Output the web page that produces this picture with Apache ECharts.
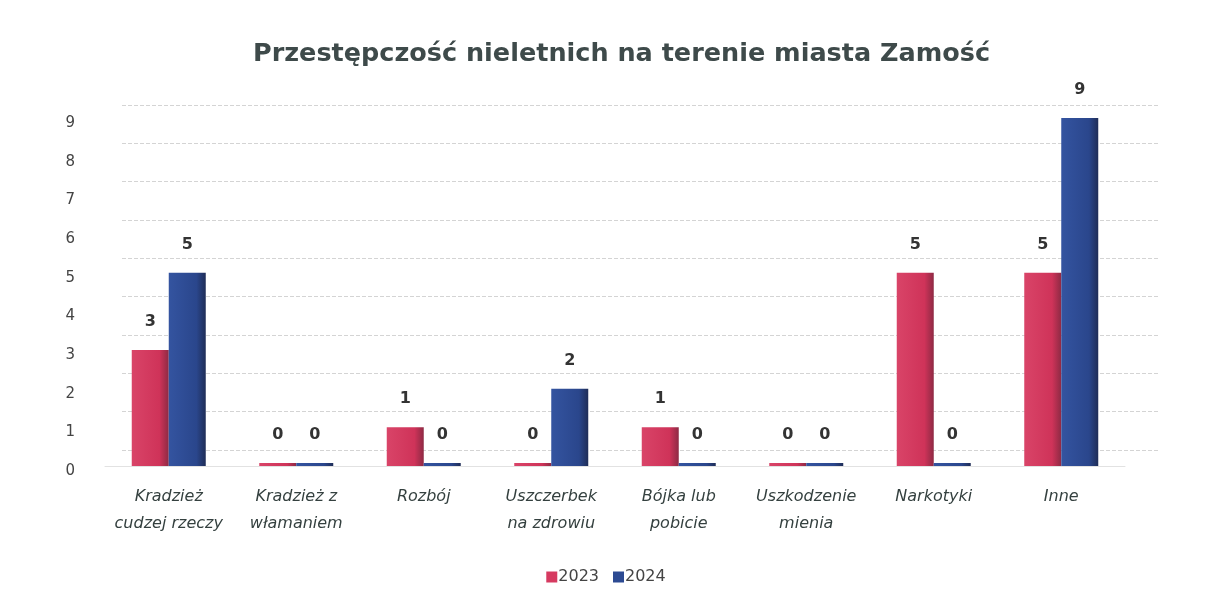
<!DOCTYPE html>
<html>
<head>
<meta charset="utf-8">
<script src="https://cdn.jsdelivr.net/npm/echarts@6/dist/echarts.min.js"></script>
<style>
html,body{margin:0;padding:0;background:#fff;}
#c{width:1212px;height:598px;}
</style>
</head>
<body>
<div id="c"></div>
<script>
const title = 'Przestępczość nieletnich na terenie miasta Zamość';
const categories = ['Kradzież\ncudzej rzeczy', 'Kradzież z\nwłamaniem', 'Rozbój', 'Uszczerbek\nna zdrowiu', 'Bójka lub\npobicie', 'Uszkodzenie\nmienia', 'Narkotyki', 'Inne'];
const seriesNames = ['2023', '2024'];
const values2023 = [3, 0, 1, 0, 1, 0, 5, 5];
const values2024 = [5, 0, 0, 2, 0, 0, 0, 9];
const yTicks = [0, 1, 2, 3, 4, 5, 6, 7, 8, 9];

const pink = '#d63a60';
const blue = '#2c4a92';

function grad(c1, c2, c3) {
  return new echarts.graphic.LinearGradient(0, 0, 1, 0, [
    {offset: 0, color: c1}, {offset: 0.75, color: c2}, {offset: 1, color: c3}
  ]);
}

const chart = echarts.init(document.getElementById('c'), null, {renderer: 'canvas'});
const labelStyle = {
  show: true, position: 'top', distance: 20,
  fontFamily: 'DejaVu Sans', fontWeight: 'bold', fontSize: 16, color: '#333'
};
chart.setOption({
  backgroundColor: '#ffffff',
  animation: false,
  title: {
    text: title, left: 248, top: 36,
    textStyle: {fontFamily: 'DejaVu Sans', fontWeight: 'bold', fontSize: 25.5, color: '#3e4a4a'}
  },
  legend: {
    data: [{name: '2023', itemStyle: {color: pink}}, {name: '2024', itemStyle: {color: blue}}],
    bottom: 8, left: 'center',
    itemWidth: 11, itemHeight: 11, itemGap: 14, icon: 'rect',
    textStyle: {fontFamily: 'DejaVu Sans', fontSize: 16, color: '#444', padding: [0, 0, 0, -4]}
  },
  grid: [
    {left: 122, right: 52, top: 105, bottom: 148},
    {left: 105, right: 87, top: 118, bottom: 132}
  ],
  xAxis: [
    {gridIndex: 0, type: 'category', data: categories, show: false},
    {gridIndex: 1, type: 'category', data: categories,
     axisLine: {show: true, lineStyle: {color: '#e2e2e2'}}, axisTick: {show: false},
     axisLabel: {interval: 0, margin: 17, fontFamily: 'DejaVu Sans', fontStyle: 'italic', fontSize: 16,
                 color: '#34403f', lineHeight: 27}}
  ],
  yAxis: [
    {gridIndex: 0, type: 'value', min: 0, max: 9, interval: 1,
     axisLabel: {show: false}, axisLine: {show: false}, axisTick: {show: false},
     splitLine: {show: true, lineStyle: {color: '#d4d4d4', type: 'dashed', width: 1}}},
    {gridIndex: 1, type: 'value', min: 0, max: 9, interval: 1,
     axisLine: {show: false}, axisTick: {show: false}, splitLine: {show: false},
     axisLabel: {margin: 30, fontFamily: 'DejaVu Sans', fontSize: 15, color: '#444',
                 verticalAlign: 'top', lineHeight: 10,
                 formatter: v => yTicks.includes(v) ? String(v) : ''}}
  ],
  series: [
    {name: seriesNames[0], type: 'bar', xAxisIndex: 1, yAxisIndex: 1, data: values2023,
     barWidth: 37, barGap: '0%', barMinHeight: 3,
     itemStyle: {color: grad('#d94468', '#cf3359', '#8e2a44')}, label: labelStyle},
    {name: seriesNames[1], type: 'bar', xAxisIndex: 1, yAxisIndex: 1, data: values2024,
     barWidth: 37, barGap: '0%', barMinHeight: 3,
     itemStyle: {color: grad('#3454a0', '#2a468c', '#1f2d57')}, label: labelStyle}
  ]
});
</script>
</body>
</html>
